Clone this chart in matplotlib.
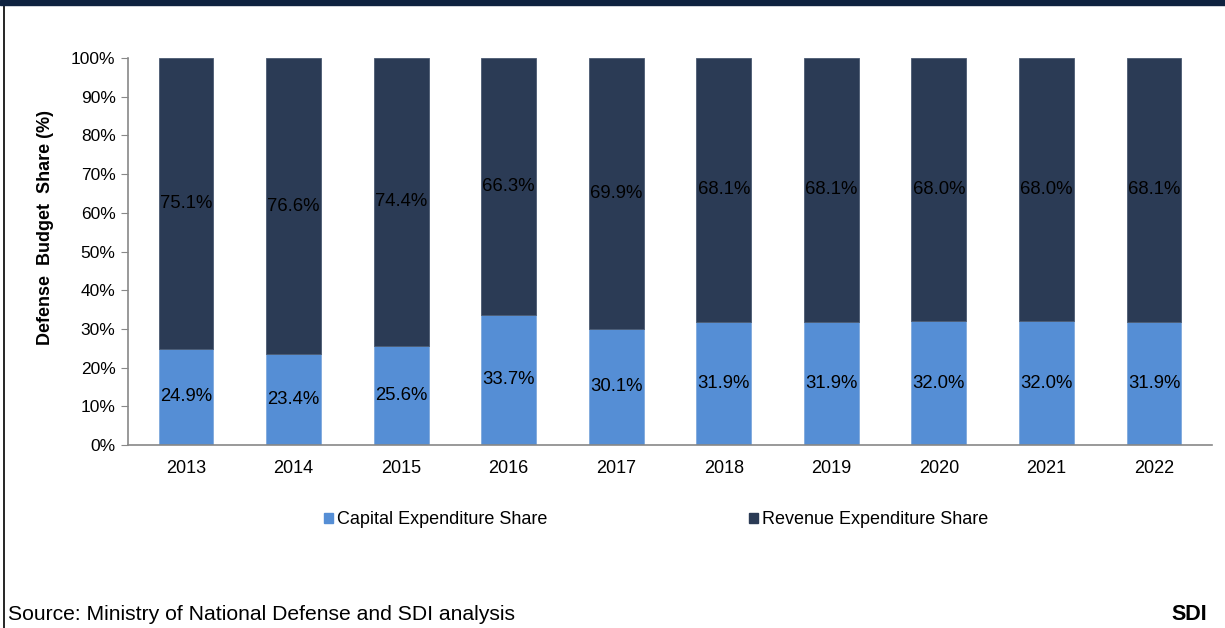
import matplotlib
matplotlib.use("Agg")
import matplotlib.pyplot as plt
from matplotlib.patches import Rectangle
from matplotlib.lines import Line2D
import numpy as np

plt.rcParams['font.family'] = ['Liberation Sans', 'DejaVu Sans']

years = ["2013", "2014", "2015", "2016", "2017", "2018", "2019", "2020", "2021", "2022"]
capital_share = [24.9, 23.4, 25.6, 33.7, 30.1, 31.9, 31.9, 32.0, 32.0, 31.9]
revenue_share = [75.1, 76.6, 74.4, 66.3, 69.9, 68.1, 68.1, 68.0, 68.0, 68.1]
y_ticks = [0, 10, 20, 30, 40, 50, 60, 70, 80, 90, 100]

cap_color = "#558ED5"
rev_color = "#2B3B55"

W, H = 1225, 628
fig = plt.figure(figsize=(W / 100, H / 100), dpi=100)

ax = fig.add_axes([128 / W, 1 - 445 / H, (1212 - 128) / W, (445 - 58) / H])
x = np.arange(len(years))
bw = 0.51
cap = ax.bar(x, capital_share, bw, color=cap_color, edgecolor="#7FA9DD", linewidth=0.6)
rev = ax.bar(x, revenue_share, bw, bottom=capital_share, color=rev_color,
             edgecolor="#4A5A72", linewidth=0.6)

for xi, c, r in zip(x, capital_share, revenue_share):
    ax.text(xi, c / 2, f"{c:.1f}%", ha="center", va="center", fontsize=13.3, color="black")
    ax.text(xi, c + r / 2, f"{r:.1f}%", ha="center", va="center", fontsize=13.3, color="black")

ax.set_xlim(-0.54, len(years) - 0.46)
ax.set_ylim(0, 100)
ax.set_yticks(y_ticks)
ax.set_yticklabels([f"{t}%" for t in y_ticks], fontsize=12.5)
ax.set_xticks(x)
ax.set_xticklabels(years, fontsize=13)
ax.tick_params(axis="x", length=0, pad=11)
ax.tick_params(axis="y", length=5, color="#888888", pad=4)
for s in ["top", "right"]:
    ax.spines[s].set_visible(False)
for s in ["left", "bottom"]:
    ax.spines[s].set_color("#888888")
    ax.spines[s].set_linewidth(1.2)

fig.text(45 / W, 1 - 228 / H, "Defense  Budget  Share (%)", rotation=90,
         fontsize=13, fontweight="bold", ha="center", va="center")

handles = [Rectangle((0, 0), 1, 1, color=cap_color), Rectangle((0, 0), 1, 1, color=rev_color)]
fig.legend(handles, ["Capital Expenditure Share", "Revenue Expenditure Share"],
           loc="center", bbox_to_anchor=(656 / W, 1 - 520 / H), ncol=2, frameon=False,
           fontsize=13, handlelength=0.5, handleheight=0.5, handletextpad=0.22,
           columnspacing=11.2)

# top band and left frame line
fig.add_artist(Rectangle((0, 1 - 5 / H), 1, 5 / H, transform=fig.transFigure,
                         color="#0E223F", zorder=5))
fig.add_artist(Line2D([4 / W, 4 / W], [0, 1 - 5 / H], transform=fig.transFigure,
                      color="black", linewidth=1.2))

fig.text(8 / W, 1 - 615 / H, "Source: Ministry of National Defense and SDI analysis",
         fontsize=15.2, va="center", ha="left")
fig.text(1207 / W, 1 - 615 / H, "SDI", fontsize=15.5, fontweight="bold", va="center", ha="right")

fig.savefig("out.png", dpi=100)
